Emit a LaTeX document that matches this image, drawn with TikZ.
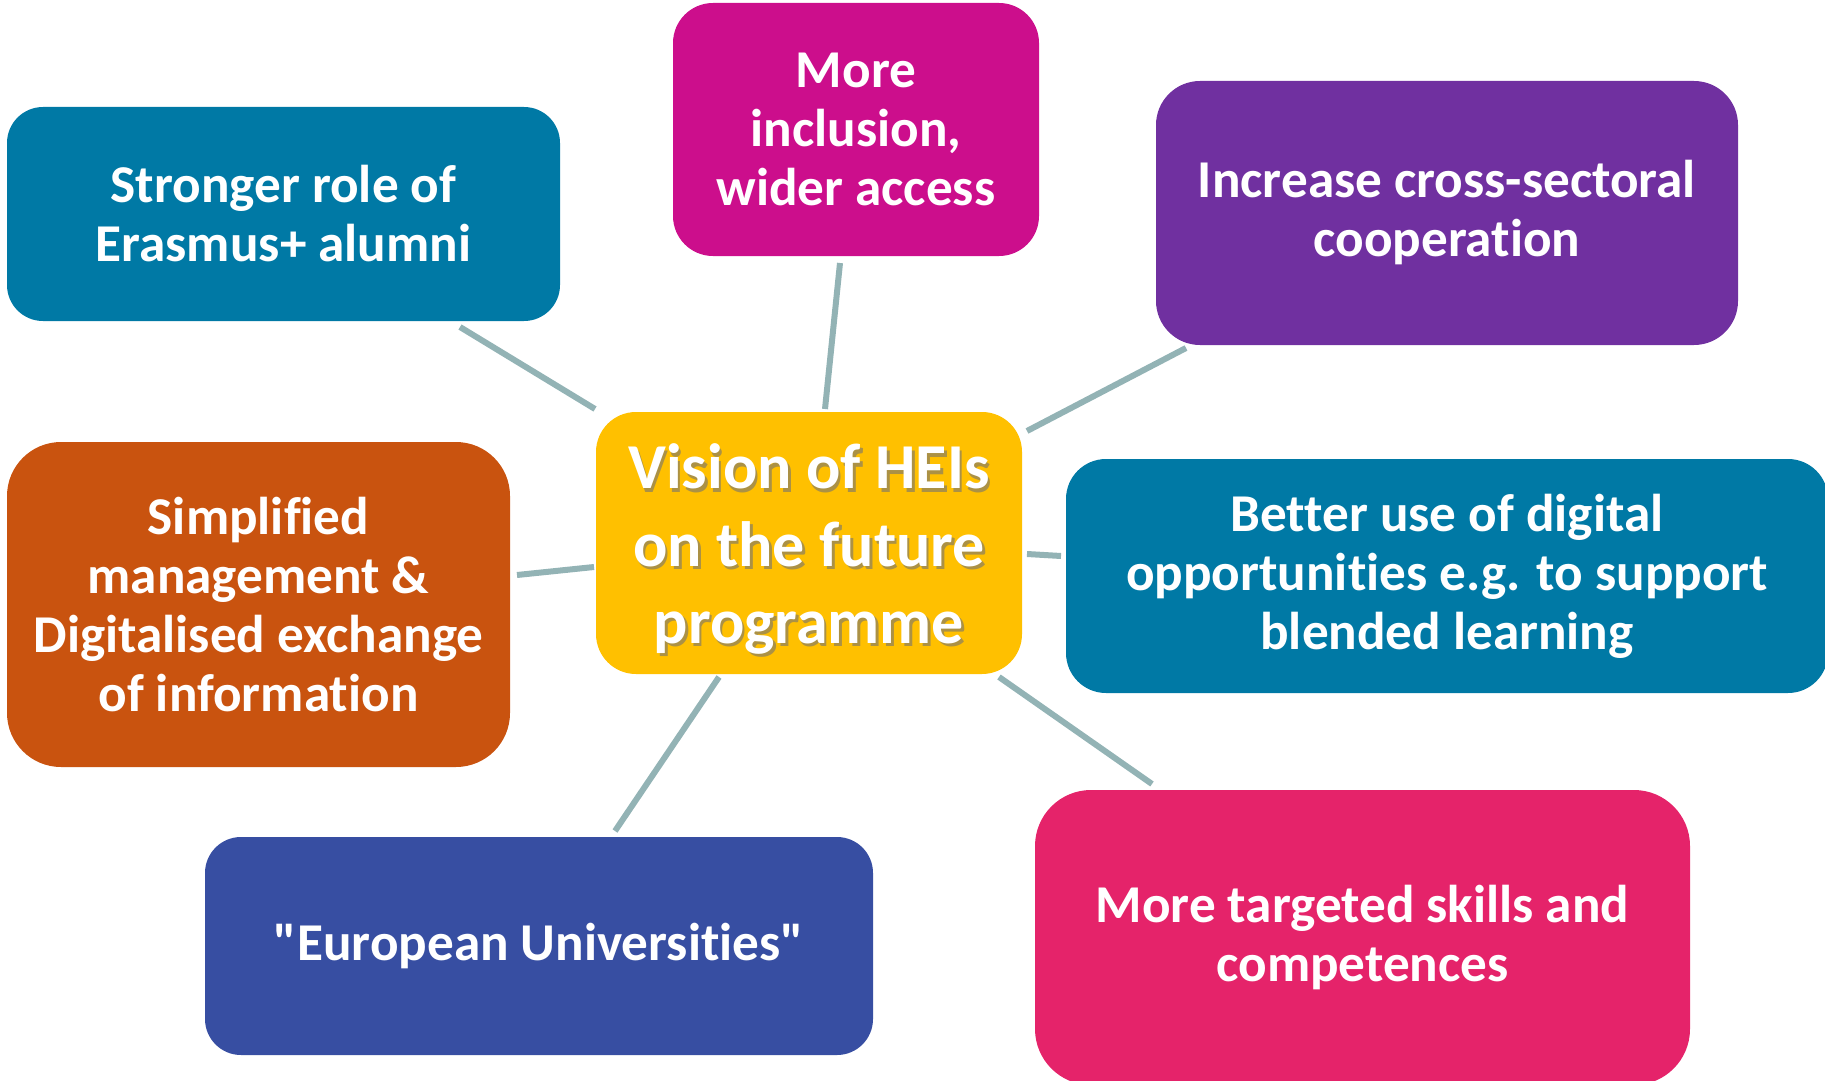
\documentclass[tikz,border=0pt]{standalone}
\usepackage{fontspec}
\setmainfont{Carlito}[Ligatures={NoCommon,NoContextual,TeXOff},Contextuals={NoAlternate}]
\definecolor{cteal}{HTML}{0079A5}
\definecolor{cmag}{HTML}{CC0E8C}
\definecolor{cpurp}{HTML}{7030A0}
\definecolor{cyell}{HTML}{FFC000}
\definecolor{cbrown}{HTML}{C9530F}
\definecolor{cblue}{HTML}{374EA2}
\definecolor{cpink}{HTML}{E5236A}
\definecolor{cline}{HTML}{93B3B5}
\tikzset{
  box/.style={rectangle, draw=none, text=white, align=center, inner sep=0pt,
    font=\fontsize{26.6}{29.5}\selectfont\bfseries},
  conn/.style={draw=cline, line width=3pt},
  bigtext/.style={font=\fontsize{32}{38.7}\selectfont\bfseries, align=center, inner sep=0pt}
}
\begin{document}
\begin{tikzpicture}[x=0.5pt,y=-0.5pt]
\useasboundingbox (0,0) rectangle (1825,1081);
\clip (0,0) rectangle (1825,1081);
% connectors
\coordinate (a1) at (460,327); \coordinate (b1) at (595,409);
\coordinate (a2) at (840,263); \coordinate (b2) at (825,409);
\coordinate (a3) at (1186,348); \coordinate (b3) at (1027,431);
\coordinate (a4) at (1061,556); \coordinate (b4) at (1027,554);
\coordinate (a5) at (517,575); \coordinate (b5) at (594,567);
\coordinate (a6) at (615,831); \coordinate (b6) at (719,677);
\coordinate (a7) at (1152,784); \coordinate (b7) at (999,677);
\foreach \i in {1,...,7} { \draw[conn] (a\i) -- (b\i); }
% boxes
\node[box, fill=cteal, minimum width=276.5pt, minimum height=107pt, rounded corners=18pt] (alumni) at (283.5,214) {Stronger role of\\Erasmus+ alumni};
\node[box, fill=cmag, minimum width=183pt, minimum height=126.5pt, rounded corners=20pt] (inclusion) at (856,129.5) {More\\inclusion,\\wider access};
\node[box, fill=cpurp, minimum width=291pt, minimum height=132pt, rounded corners=22pt] (cross) at (1447,213) {Increase cross-sectoral\\cooperation};
\node[box, fill=cyell, minimum width=213pt, minimum height=131pt, rounded corners=20pt] (vision) at (809,543) {};
\node[bigtext, text=black!55, opacity=0.6] (vshadow) at (811.5,552.5) {Vision of HEIs\\on the future\\programme};
\node[bigtext, text=white] (vtext) at (809,549) {Vision of HEIs\\on the future\\programme};
\node[box, fill=cbrown, minimum width=251.5pt, minimum height=162.5pt, rounded corners=27pt] (simpl) at (258.5,604.5) {Simplified\\management \&\\Digitalised exchange\\of information};
\node[box, fill=cteal, minimum width=381pt, minimum height=117pt, rounded corners=20pt] (digital) at (1447,576) {Better use of digital\\opportunities e.g. to support\\blended learning};
\node[box, fill=cblue, minimum width=334pt, minimum height=109pt, rounded corners=18pt] (euro) at (539,946) {"European Universities"};
\node[box, fill=cpink, minimum width=327.5pt, minimum height=147.5pt, rounded corners=28pt] (skills) at (1362.5,937.5) {More targeted skills and\\competences};
\end{tikzpicture}
\end{document}
